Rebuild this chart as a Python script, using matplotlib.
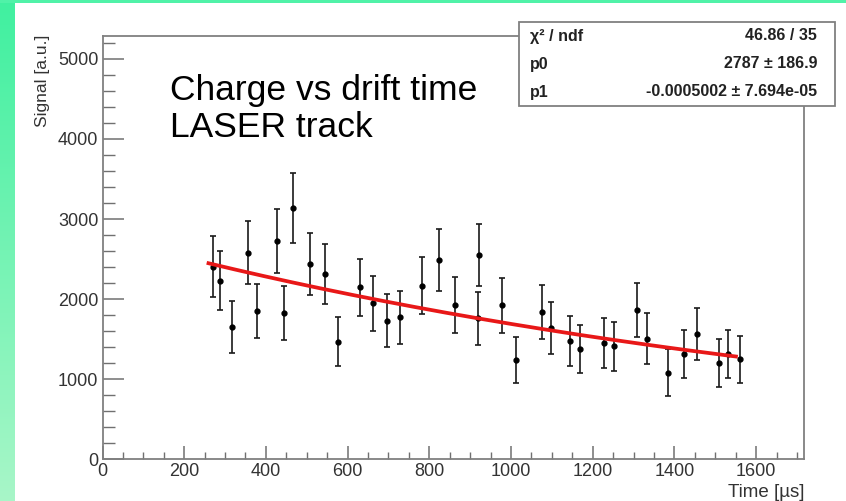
"""Charge vs drift time for a LASER track, with exponential fit."""

import numpy as np
import matplotlib
matplotlib.use('Agg')
import matplotlib.pyplot as plt
from matplotlib.patches import Rectangle

plt.rcParams['font.family'] = ['Liberation Sans', 'DejaVu Sans']

# Measured points: drift time [us], signal [a.u.], error
drift_time = [271, 288, 318, 355, 377, 426, 445, 467, 509, 545,
              577, 630, 662, 697, 728, 783, 823, 863, 920, 922,
              978, 1011, 1076, 1098, 1144, 1169, 1228, 1253, 1308, 1332,
              1384, 1424, 1456, 1508, 1530, 1561]
signal = [2404, 2230, 1648, 2580, 1855, 2729, 1826, 3133, 2438, 2313,
          1468, 2147, 1948, 1727, 1773, 2164, 2484, 1926, 1760, 2547,
          1926, 1243, 1839, 1643, 1477, 1381, 1452, 1411, 1868, 1506,
          1081, 1311, 1564, 1202, 1311, 1248]
signal_err = [378, 366, 323, 396, 337, 400, 337, 437, 385, 371,
              304, 358, 346, 331, 331, 356, 387, 350, 329, 387,
              343, 289, 339, 325, 312, 302, 308, 306, 337, 322,
              296, 300, 323, 296, 300, 293]

# Fit result: p0 * exp(p1 * t)
p0, p0_err = 2787, 186.9
p1, p1_err = -0.0005002, 7.694e-05
chi2, ndf = 46.86, 35
fit_range = (255, 1555)

xticks_major = [0, 200, 400, 600, 800, 1000, 1200, 1400, 1600]
yticks_major = [0, 1000, 2000, 3000, 4000, 5000]

W, H = 846, 501
fig = plt.figure(figsize=(W / 100, H / 100), dpi=100)
fig.patch.set_facecolor('white')

# green slide border (left and top strips)
bg = np.ones((H, W, 3))
top_col = np.array([64, 240, 160]) / 255.
bot_col = np.array([168, 246, 200]) / 255.
frac = np.linspace(0, 1, H)[:, None]
bg[:, :15, :] = (top_col * (1 - frac) + bot_col * frac)[:, None, :]
bg[:3, :, :] = np.array([80, 242, 168]) / 255.
fig.figimage(bg, xo=0, yo=0, origin='upper', zorder=-1)

ax = fig.add_axes([102.5 / W, 41.7 / H, (804 - 102.5) / W, (465 - 41.7) / H])
ax.set_facecolor('white')

ax.errorbar(drift_time, signal, yerr=signal_err, fmt='o', ms=3.5,
            color='black', ecolor='#1a1a1a', elinewidth=1.2,
            capsize=2.3, capthick=1.2, zorder=3)

t_fit = np.linspace(fit_range[0], fit_range[1], 300)
ax.plot(t_fit, p0 * np.exp(p1 * t_fit), color='#e81818', lw=2.7,
        solid_capstyle='butt', zorder=4)

ax.set_xlim(0, 1717)
ax.set_ylim(0, 5285)
ax.set_xticks(xticks_major)
ax.set_xticks(np.arange(0, 1717, 50), minor=True)
ax.set_yticks(yticks_major)
ax.set_yticks(np.arange(0, 5285, 200), minor=True)
ax.set_xticklabels([str(v) for v in xticks_major])
ax.set_yticklabels([str(v) for v in yticks_major])

for side in ['left', 'right', 'top', 'bottom']:
    ax.spines[side].set_color('#808080')
    ax.spines[side].set_linewidth(1.3)

ax.tick_params(axis='x', which='major', direction='in', length=9.5,
               width=1.1, color='#707070', pad=3, labelsize=13,
               labelcolor='#333333')
ax.tick_params(axis='x', which='minor', direction='in', length=5,
               width=1.0, color='#707070')
ax.tick_params(axis='y', which='major', direction='in', length=15,
               width=1.1, color='#707070', pad=3, labelsize=13,
               labelcolor='#333333')
ax.tick_params(axis='y', which='minor', direction='in', length=8.5,
               width=1.0, color='#707070')

fig.text(42 / W, 1 - 35 / H, 'Signal [a.u.]', rotation=90, ha='center',
         va='top', fontsize=12.5, color='#333333')
fig.text(804 / W, 1 - 497 / H, 'Time [\u00b5s]', ha='right', va='baseline',
         fontsize=13.5, color='#333333')

fig.text(170 / W, 1 - 100 / H, 'Charge vs drift time', ha='left',
         va='baseline', fontsize=25.5, color='black')
fig.text(170 / W, 1 - 137 / H, 'LASER track', ha='left',
         va='baseline', fontsize=25.5, color='black')

# statistics box
bx0, bx1, by0, by1 = 519, 835, 22, 106
fig.add_artist(Rectangle((bx0 / W, 1 - by1 / H), (bx1 - bx0) / W,
                         (by1 - by0) / H, transform=fig.transFigure,
                         facecolor='white', edgecolor='#808080', lw=1.3,
                         zorder=5))
rows = [('\u03c7\u00b2 / ndf', '%.2f / %d' % (chi2, ndf)),
        ('p0', '%d \u00b1 %.1f' % (p0, p0_err)),
        ('p1', '%.7f \u00b1 %.3e' % (p1, p1_err))]
row_h = (by1 - by0) / len(rows)
for i, (name, val) in enumerate(rows):
    yc = 1 - (by0 + row_h * (i + 0.5)) / H
    fig.text(530 / W, yc, name, ha='left', va='center', fontsize=11.5,
             fontweight='bold', color='#222222', zorder=6)
    fig.text(817 / W, yc, val, ha='right', va='center', fontsize=11.5,
             fontweight='bold', color='#222222', zorder=6)

fig.savefig('out.png', dpi=100)
